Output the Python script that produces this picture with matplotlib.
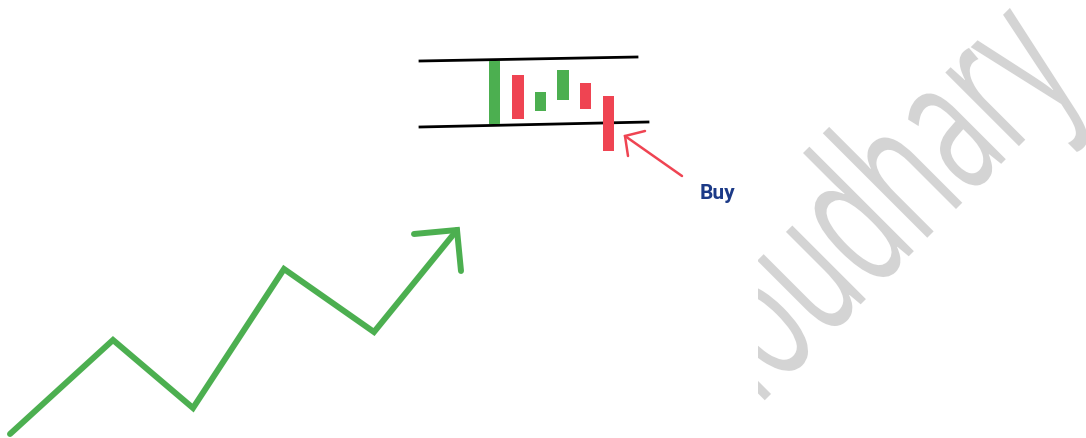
#Padrão de continuação: tendência de alta, consolidação e compra
import numpy as np
import matplotlib.pyplot as plt
from matplotlib.transforms import Affine2D, Bbox, TransformedBbox
from matplotlib.patheffects import AbstractPathEffect

#Tendência de alta (zigzag verde), coordenadas da imagem
trend_x = [10, 113, 193, 284, 374, 457]
trend_y = [435, 341, 409, 270, 333, 231]
trend_head_x = [414, 457, 461]
trend_head_y = [235, 231, 272]

#Linhas do canal
top_x = [420, 637]
top_y = [62, 58]
bot_x = [420, 648]
bot_y = [128, 123]

#Velas: centro, abertura, fechamento
candle_x = [494.5, 518, 540.5, 563, 585.5, 608.5]
candle_open = [125, 76, 112, 101, 84, 97]
candle_close = [62, 120, 93, 71, 110, 152]

#Seta vermelha e texto
buy_x = [682, 625]
buy_y = [177, 137]
buy_head_x = [645, 625, 628]
buy_head_y = [132, 137, 157]

green = '#4CAF50'
red = '#EF4452'


class Condensar(AbstractPathEffect):
    #estreita o texto na direção da linha de base
    def __init__(self, sx):
        super().__init__()
        self.sx = sx

    def draw_path(self, renderer, gc, tpath, affine, rgbFace=None):
        renderer.draw_path(gc, tpath, Affine2D().scale(self.sx, 1) + affine, rgbFace)


fig = plt.figure(figsize=(10.86, 4.39), dpi=100)
ax = fig.add_axes([0, 0, 1, 1])
ax.set_xlim(0, 1086)
ax.set_ylim(439, 0)
ax.axis('off')

#Marca d'água (cortada à esquerda)
wm = ax.text(680, 486, 'Choudhary', rotation=45, rotation_mode='anchor',
             ha='left', va='baseline', fontsize=140, family='Open Sans',
             color='#D4D4D4', zorder=0, clip_on=True,
             path_effects=[Condensar(0.57)])
wm.set_clip_box(TransformedBbox(Bbox([[758, 0], [1086, 439]]), ax.transData))

ax.plot(trend_x, trend_y, color=green, lw=4.3, solid_capstyle='round', solid_joinstyle='miter')
ax.plot(trend_head_x, trend_head_y, color=green, lw=4.3, solid_capstyle='round', solid_joinstyle='miter')

ax.plot(top_x, top_y, color='black', lw=2.0)
ax.plot(bot_x, bot_y, color='black', lw=2.0)

for x, o, c in zip(candle_x, candle_open, candle_close):
    col = green if c < o else red
    ax.bar(x, c - o, bottom=o, width=11.5, color=col, zorder=3)

ax.plot(buy_x, buy_y, color=red, lw=1.8, solid_capstyle='round')
ax.plot(buy_head_x, buy_head_y, color=red, lw=1.8, solid_capstyle='round', solid_joinstyle='miter')
ax.text(717, 194, 'Buy', ha='center', va='center', fontsize=15, fontweight='bold',
        family='Roboto', color='#1C3A87')

fig.savefig('out.png', dpi=100)
